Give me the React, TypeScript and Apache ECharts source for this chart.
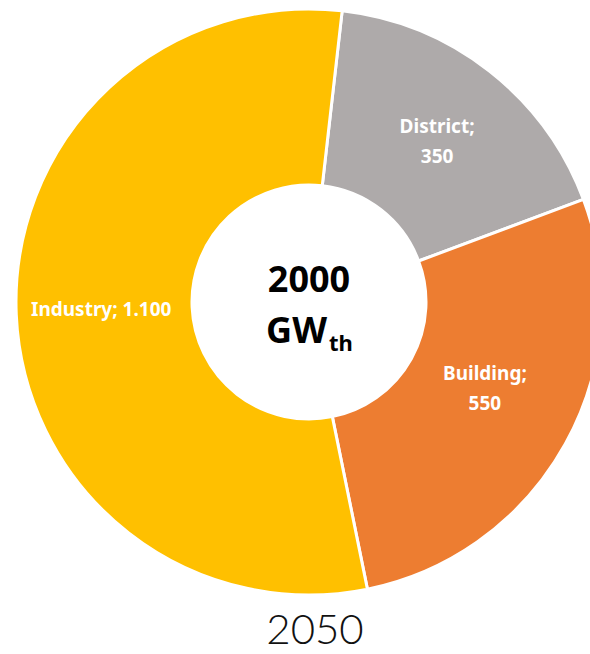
import React, { useEffect, useRef } from "react";
import * as echarts from "echarts";

const categories = ["District", "Building", "Industry"];
const values = [350, 550, 1100];
const colors = ["#AEAAAA", "#ED7D31", "#FFC000"];
const splitLabel = [true, true, false];
const totalLabel = "2000";
const unitMain = "GW";
const unitSub = "th";
const yearLabel = "2050";

// label nudges (styling only)
const labelNudge: Record<string, [number, number]> = {
  District: [0, 3],
  Building: [-6, -15],
  Industry: [0, -2],
};

function fmt(v: number): string {
  return String(v).replace(/\B(?=(\d{3})+(?!\d))/g, ".");
}

export default function App() {
  const ref = useRef<HTMLDivElement>(null);
  useEffect(() => {
    const chart = echarts.init(ref.current!, null, { renderer: "svg" });
    chart.setOption({
      animation: false,
      backgroundColor: "#ffffff",
      series: [
        {
          type: "pie",
          center: [309, 302],
          radius: [117, 293],
          startAngle: 83.5,
          clockwise: true,
          avoidLabelOverlap: false,
          itemStyle: { borderColor: "#ffffff", borderWidth: 3 },
          label: {
            show: true,
            position: "inside",
            color: "#ffffff",
            fontFamily: "Noto Sans",
            fontWeight: "bold",
            fontSize: 19,
            lineHeight: 30,
          },
          labelLine: { show: false },
          emphasis: { disabled: true },
          data: categories.map((c, i) => ({
            name: c,
            value: values[i],
            itemStyle: { color: colors[i] },
            label: {
              formatter: c + ";" + (splitLabel[i] ? "\n" : " ") + fmt(values[i]),
              offset: labelNudge[c] || [0, 0],
            },
          })),
        },
      ],
      graphic: [
        {
          type: "text",
          x: 309,
          y: 278,
          style: {
            text: totalLabel,
            fontFamily: "Noto Sans",
            fontWeight: "bold",
            fontSize: 36,
            fill: "#000000",
            align: "center",
            verticalAlign: "middle",
          },
        },
        {
          type: "text",
          x: 327,
          y: 329,
          style: {
            text: unitMain,
            fontFamily: "Noto Sans",
            fontWeight: "bold",
            fontSize: 36,
            fill: "#000000",
            align: "right",
            verticalAlign: "middle",
          },
        },
        {
          type: "text",
          x: 329,
          y: 342,
          style: {
            text: unitSub,
            fontFamily: "Noto Sans",
            fontWeight: "bold",
            fontSize: 22,
            fill: "#000000",
            align: "left",
            verticalAlign: "middle",
          },
        },
        {
          type: "text",
          x: 315,
          y: 628,
          style: {
            text: yearLabel,
            fontFamily: "Lato",
            fontWeight: 300,
            fontSize: 42,
            fill: "#111111",
            align: "center",
            verticalAlign: "middle",
          },
        },
      ],
    });
    return () => chart.dispose();
  }, []);
  return (
    <div
      ref={ref}
      style={{ position: "fixed", left: 0, top: 0, width: 590, height: 654 }}
    />
  );
}
